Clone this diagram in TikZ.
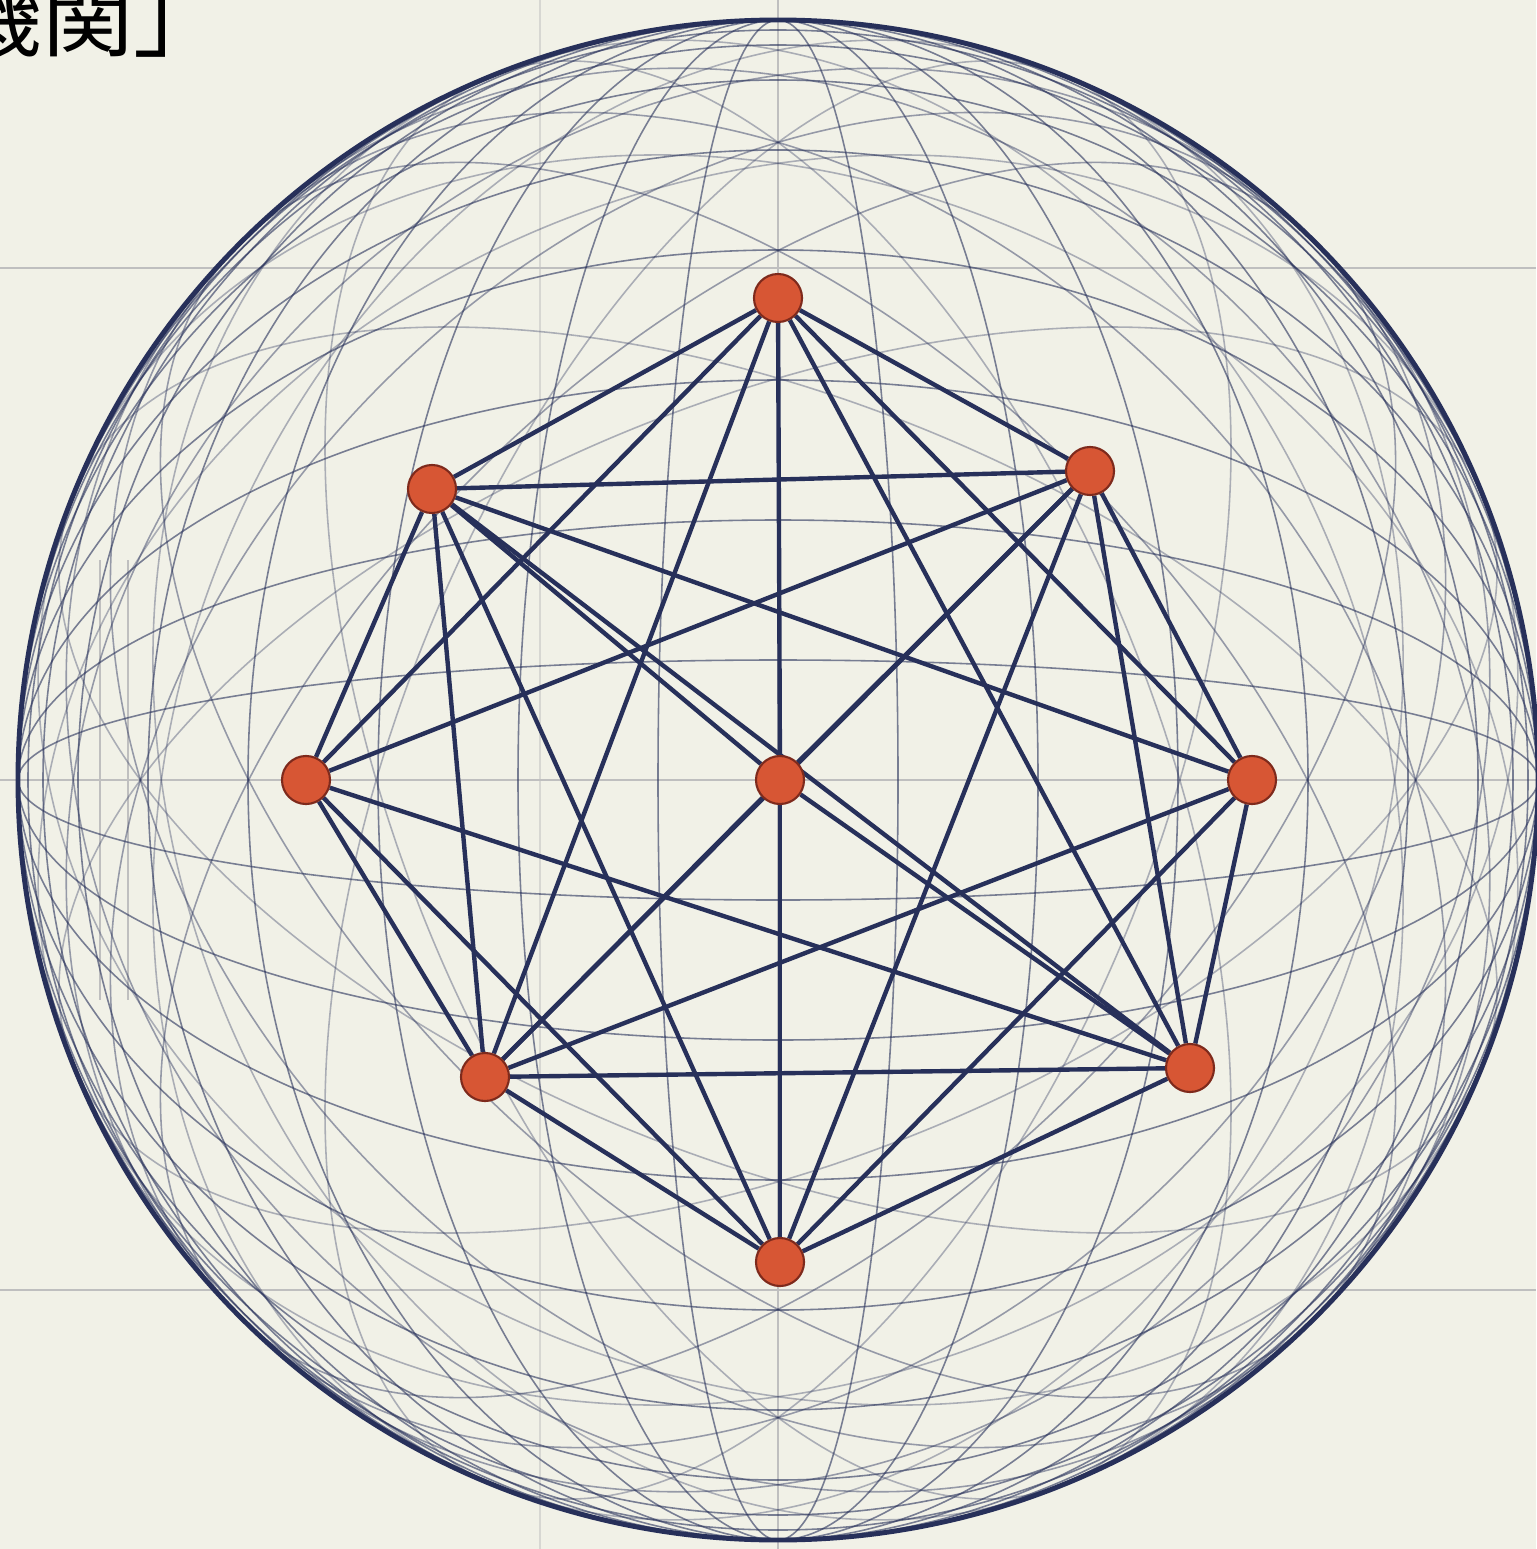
\documentclass[tikz,border=0pt]{standalone}
\usepackage{fontspec}
\newfontfamily\cjk{Noto Sans CJK JP}
\usetikzlibrary{backgrounds}
\definecolor{paper}{HTML}{F1F1E7}
\definecolor{navy}{HTML}{27305A}
\definecolor{dotred}{HTML}{D75634}
\definecolor{dotrim}{HTML}{7E2A1C}
\tikzset{
  vertex/.style={circle,draw=dotrim,line width=0.6pt,fill=dotred,minimum size=0.48cm,inner sep=0pt},
  link/.style={navy,line width=1.25pt},
  wire/.style={navy,line width=0.45pt,opacity=0.6},
  grid line/.style={gray!50,line width=0.6pt}
}
\begin{document}
\begin{tikzpicture}[x=0.01cm,y=-0.01cm]
\useasboundingbox (0,0) rectangle (1536,1549);

% Title fragment (cut by the page edge, as in the source)
\node[anchor=base west,inner sep=0pt,font=\cjk\fontsize{26}{26}\selectfont] (title) at (-50,50) {機関」};

% Graph nodes
\node[vertex] (T)  at (778,298)  {};
\node[vertex] (UL) at (432,489)  {};
\node[vertex] (UR) at (1090,471) {};
\node[vertex] (L)  at (306,780)  {};
\node[vertex] (C)  at (780,780)  {};
\node[vertex] (R)  at (1252,780) {};
\node[vertex] (LL) at (485,1077) {};
\node[vertex] (LR) at (1190,1068){};
\node[vertex] (B)  at (780,1262) {};

\begin{scope}[on background layer]
% Paper and faint grid
\fill[paper] (0,0) rectangle (1536,1549);
\draw[grid line] (0,268) -- (1536,268);
\draw[grid line] (0,780) -- (1536,780);
\draw[grid line] (0,1290) -- (1536,1290);
\draw[grid line] (778,0) -- (778,1549);
\draw[grid line,opacity=0.5] (540,0) -- (540,1549);
\draw[grid line] (100,560) -- (100,1000);
\draw[grid line] (128,560) -- (128,1000);

% Wireframe sphere
\coordinate (O) at (778,780);
\foreach \r in {120,260,400,530,630,700,735,750}{
  \draw[wire] (O) ellipse [x radius=\r,y radius=760];
  \draw[wire] (O) ellipse [x radius=760,y radius=\r];
}
\foreach \r in {430,560,660}{
  \draw[wire,opacity=0.45] (O) ellipse [x radius=760,y radius=\r,rotate=45];
  \draw[wire,opacity=0.45] (O) ellipse [x radius=760,y radius=\r,rotate=-45];
}
\foreach \r in {380,600}{
  \draw[wire,opacity=0.35] (O) ellipse [x radius=760,y radius=\r,rotate=22];
  \draw[wire,opacity=0.35] (O) ellipse [x radius=760,y radius=\r,rotate=-22];
  \draw[wire,opacity=0.35] (O) ellipse [x radius=760,y radius=\r,rotate=68];
  \draw[wire,opacity=0.35] (O) ellipse [x radius=760,y radius=\r,rotate=-68];
}
\draw[navy,line width=1.4pt] (O) circle [radius=760];

% Connections
\foreach \a/\b in {T/UL,T/UR,T/L,T/R,T/LL,T/LR,
                   UL/UR,UL/L,UL/R,UL/LL,UL/LR,UL/B,
                   UR/L,UR/R,UR/LL,UR/LR,UR/B,
                   L/LL,L/LR,L/B,R/LL,R/LR,R/B,
                   LL/LR,LL/B,LR/B,
                   C/T,C/B,C/UL,C/UR,C/LL,C/LR}
  \draw[link] (\a) -- (\b);
\end{scope}

\end{tikzpicture}
\end{document}
